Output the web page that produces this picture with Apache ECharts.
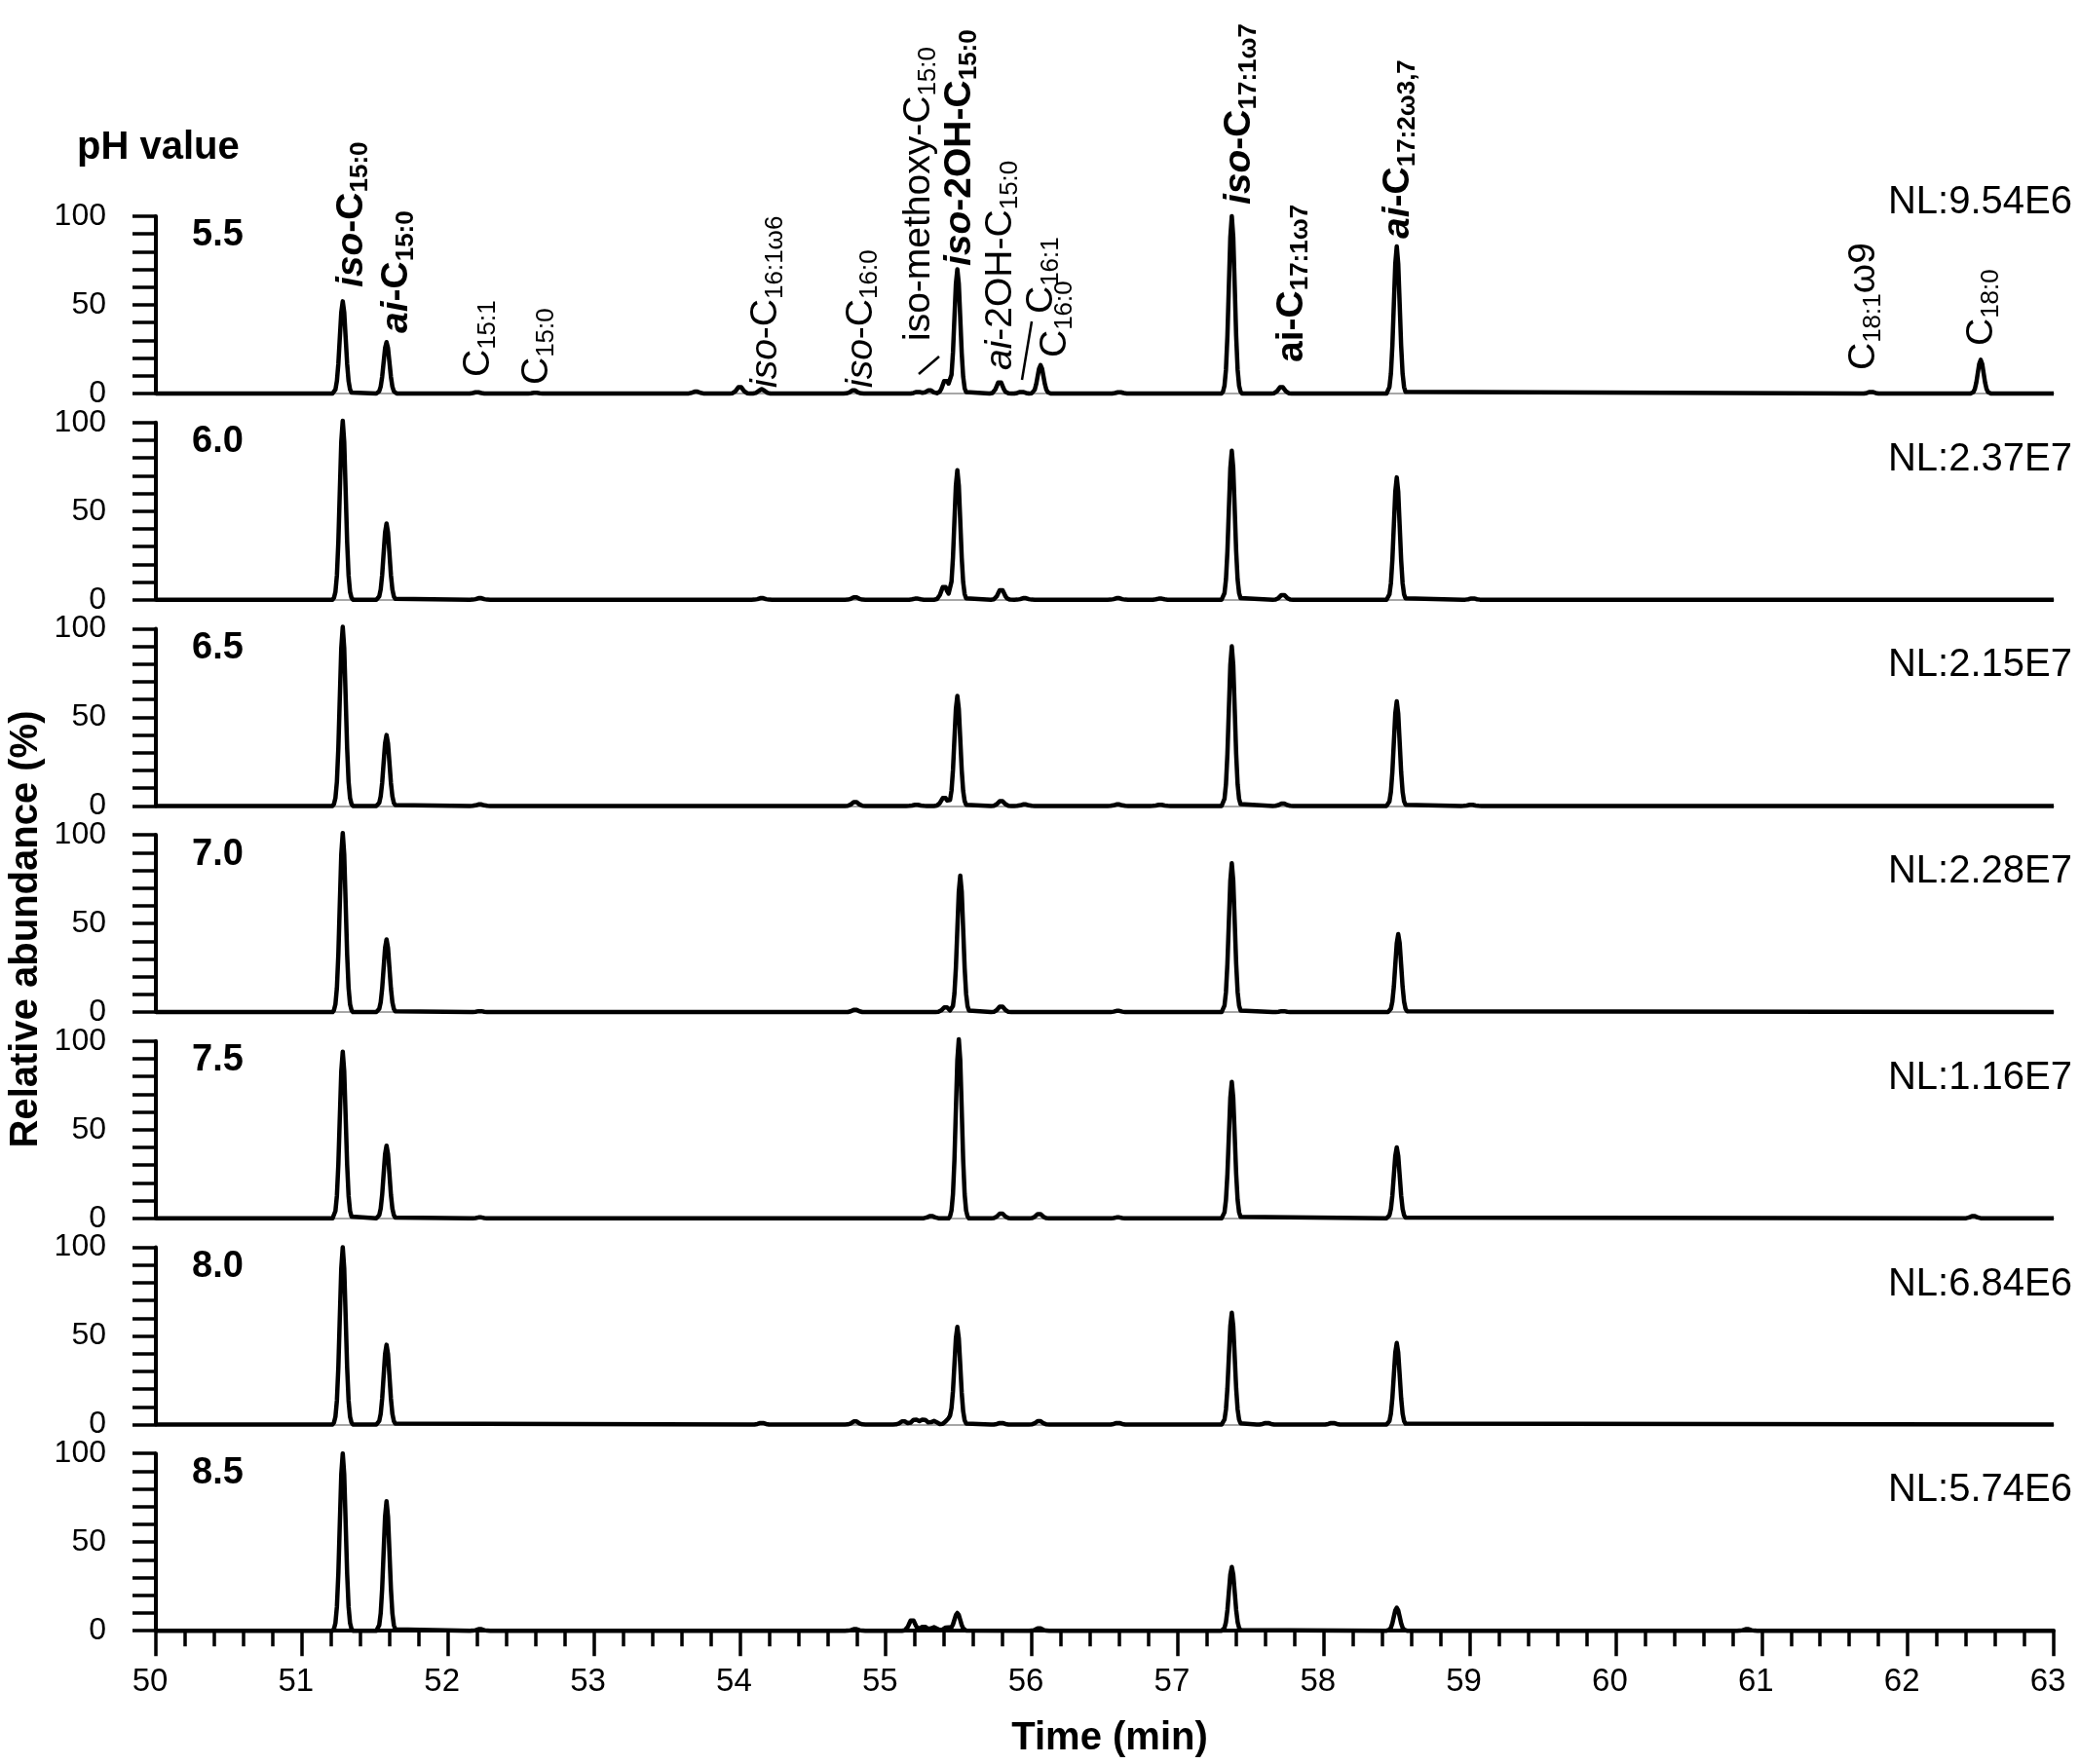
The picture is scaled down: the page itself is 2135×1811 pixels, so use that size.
<!DOCTYPE html>
<html>
<head>
<meta charset="utf-8">
<script src="https://cdn.jsdelivr.net/npm/echarts@6.0.0/dist/echarts.min.js"></script>
<style>
  html, body { margin: 0; padding: 0; background: #fff; }
  #chart { width: 2135px; height: 1811px; }
</style>
</head>
<body>
<div id="chart"></div>
<script>
// pH of each run, top to bottom
var phValues = ['5.5', '6.0', '6.5', '7.0', '7.5', '8.0', '8.5'];
// normalisation level of each trace
var nlValues = ['NL:9.54E6', 'NL:2.37E7', 'NL:2.15E7', 'NL:2.28E7', 'NL:1.16E7', 'NL:6.84E6', 'NL:5.74E6'];

// peaks: [retention time (min), relative abundance (%)]
var peaks55 = [[51.28, 52], [51.58, 29], [52.2, 0.8], [52.6, 0.5], [53.7, 1.2], [54.0, 4], [54.15, 2.5], [54.78, 2],
  [55.22, 1], [55.3, 2], [55.41, 8], [55.49, 70], [55.78, 7], [55.93, 1], [56.06, 16], [56.6, 0.8],
  [57.37, 100], [57.71, 4], [58.5, 83], [61.75, 1], [62.5, 19]];
var peaks60 = [[51.28, 101], [51.58, 43], [52.22, 1], [54.15, 1], [54.79, 1.5], [55.21, 0.7], [55.4, 8], [55.49, 73],
  [55.79, 6], [55.95, 1], [56.59, 1], [56.88, 0.7], [57.37, 84], [57.72, 3], [58.5, 69], [59.02, 0.8]];
var peaks65 = [[51.28, 101], [51.58, 40], [52.22, 1], [54.79, 2.5], [55.21, 0.7], [55.4, 5], [55.49, 62], [55.79, 3],
  [55.95, 1], [56.59, 1], [56.88, 0.7], [57.37, 90], [57.72, 1.5], [58.5, 59], [59.01, 0.7]];
var peaks70 = [[51.28, 101], [51.58, 41], [52.22, 0.6], [54.79, 1.5], [55.41, 3], [55.51, 77], [55.79, 3.5],
  [56.59, 0.8], [57.37, 84], [57.72, 0.6], [58.51, 44]];
var peaks75 = [[51.28, 94], [51.58, 41], [52.22, 0.6], [55.31, 1.5], [55.5, 101], [55.79, 3], [56.05, 2.7],
  [56.59, 0.6], [57.37, 77], [58.5, 40], [62.45, 1.5]];
var peaks80 = [[51.28, 100], [51.58, 45], [54.15, 1], [54.79, 2], [55.12, 2], [55.2, 3], [55.26, 3], [55.33, 2],
  [55.43, 3], [55.49, 55], [55.79, 1], [56.05, 2.2], [56.59, 1], [57.37, 63], [57.61, 1], [58.06, 1], [58.5, 46]];
var peaks85 = [[51.28, 100], [51.58, 73], [52.22, 1], [54.79, 1], [55.18, 6.5], [55.26, 2.5], [55.33, 2], [55.42, 2],
  [55.49, 10], [56.05, 1.5], [57.37, 36], [58.5, 13], [60.9, 1]];
var allPeaks = [peaks55, peaks60, peaks65, peaks70, peaks75, peaks80, peaks85];

// shape of one peak: [offset from apex (min), fraction of apex height]
var peakShape = [[-0.07, 0], [-0.06, 0.011], [-0.05, 0.044], [-0.04, 0.135], [-0.03, 0.325], [-0.02, 0.607],
  [-0.01, 0.883], [0, 1], [0.01, 0.883], [0.02, 0.607], [0.03, 0.325], [0.04, 0.135], [0.05, 0.044],
  [0.06, 0.011], [0.07, 0]];

// compound labels above the top trace, and the retention time each one sits at
var labelTexts = [
  '{bi|iso}{b|-C}{sb|15:0}',
  '{bi|ai}{b|-C}{sb|15:0}',
  '{n|C}{s|15:1}',
  '{n|C}{s|15:0}',
  '{i|iso}{n|-C}{s|16:1ω6}',
  '{i|iso}{n|-C}{s|16:0}',
  '{n|iso-methoxy-C}{s|15:0}',
  '{bi|iso}{b|-2OH-C}{sb|15:0}',
  '{i|ai}{n|-2OH-C}{s|15:0}',
  '{n|C}{s|16:1}',
  '{n|C}{s|16:0}',
  '{bi|iso}{b|-C}{sb|17:1ω7}',
  '{b|ai-C}{sb|17:1ω7}',
  '{bi|ai}{b|-C}{sb|17:2ω3,7}',
  '{n|C}{s|18:1}{n|ω9}',
  '{n|C}{s|18:0}'
];
var labelTimes = [51.34, 51.65, 52.21, 52.61, 54.18, 54.83, 55.23, 55.51, 55.79, 56.07, 56.16, 57.42, 57.78, 58.51, 61.7, 62.51];
// layout: pixel y where each rotated label starts
var labelBottoms = [295, 342, 387, 395, 398, 398, 350, 273, 380, 322, 367, 210, 372, 245, 380, 355];

function shapeAt(dt) {
  for (var k = 0; k < peakShape.length - 1; k++) {
    var a = peakShape[k], b = peakShape[k + 1];
    if (dt >= a[0] && dt <= b[0]) {
      return a[1] + (b[1] - a[1]) * (dt - a[0]) / (b[0] - a[0]);
    }
  }
  return 0;
}

function buildTrace(peaks) {
  var ts = [50, 63];
  for (var p of peaks) {
    for (var s of peakShape) {
      ts.push(Math.round((p[0] + s[0]) * 1000) / 1000);
    }
  }
  ts.sort(function (a, b) { return a - b; });
  var out = [];
  var last = null;
  for (var t of ts) {
    if (t === last) continue;
    last = t;
    var v = 0;
    for (var q of peaks) v += q[1] * shapeAt(t - q[0]);
    out.push([t, v]);
  }
  return out;
}

var FONT = "'Liberation Sans', Arial, Helvetica, sans-serif";
var GRID_LEFT = 160, GRID_RIGHT = 27, GRID_TOP = 222, GRID_H = 182, GRID_STEP = 211.7;

window.onload = function () {
  var chart = echarts.init(document.getElementById('chart'));
  var grids = [], xAxes = [], yAxes = [], series = [];
  var last = phValues.length - 1;

  for (var i = 0; i < phValues.length; i++) {
    var bottom = i === last;
    grids.push({ left: GRID_LEFT, right: GRID_RIGHT, top: GRID_TOP + i * GRID_STEP, height: GRID_H });
    xAxes.push({
      type: 'value', gridIndex: i, min: 50, max: 63, interval: 1,
      axisLine: { show: true, onZero: false, lineStyle: { color: bottom ? '#000' : '#8a8a8a', width: bottom ? 4 : 1.5 } },
      axisTick: { show: bottom, length: 26, lineStyle: { color: '#000', width: 3.5 } },
      minorTick: { show: bottom, splitNumber: 5, length: 16, lineStyle: { color: '#000', width: 3.5 } },
      axisLabel: { show: bottom, margin: 36, fontSize: 33, color: '#000', fontFamily: FONT, padding: [0, 12, 0, 0] },
      splitLine: { show: false }
    });
    yAxes.push({
      type: 'value', gridIndex: i, min: 0, max: 100, interval: 50,
      axisLine: { show: true, lineStyle: { color: '#000', width: 4 } },
      axisTick: { show: true, length: 24, lineStyle: { color: '#000', width: 3.5 } },
      minorTick: { show: true, splitNumber: 5, length: 24, lineStyle: { color: '#000', width: 3.5 } },
      axisLabel: { margin: 51, fontSize: 32, color: '#000', fontFamily: FONT },
      splitLine: { show: false }
    });
    series.push({
      type: 'line', xAxisIndex: i, yAxisIndex: i,
      data: buildTrace(allPeaks[i]),
      showSymbol: false, clip: false, silent: true,
      lineStyle: { color: '#000', width: 4.5, join: 'round' }
    });
  }

  chart.setOption({
    animation: false,
    backgroundColor: '#fff',
    grid: grids, xAxis: xAxes, yAxis: yAxes, series: series
  });

  var rich = {
    n: { fontSize: 39, fontFamily: FONT, lineHeight: 41 },
    i: { fontSize: 39, fontFamily: FONT, fontStyle: 'italic', lineHeight: 41 },
    b: { fontSize: 39, fontFamily: FONT, fontWeight: 'bold', lineHeight: 41 },
    bi: { fontSize: 39, fontFamily: FONT, fontWeight: 'bold', fontStyle: 'italic', lineHeight: 41 },
    s: { fontSize: 26, fontFamily: FONT, padding: [19, 0, 0, 0] },
    sb: { fontSize: 26, fontFamily: FONT, fontWeight: 'bold', padding: [19, 0, 0, 0] }
  };

  var graphic = [];
  // compound names
  for (var j = 0; j < labelTexts.length; j++) {
    var px = chart.convertToPixel({ xAxisIndex: 0 }, labelTimes[j]);
    graphic.push({
      type: 'text', x: px, y: labelBottoms[j], rotation: Math.PI / 2,
      style: { text: labelTexts[j], rich: rich, fill: '#000', align: 'left', verticalAlign: 'middle' }
    });
  }
  // leader strokes next to two labels
  graphic.push({ type: 'line', shape: { x1: 943, y1: 384, x2: 964, y2: 366 }, style: { stroke: '#000', lineWidth: 2.5 } });
  graphic.push({ type: 'line', shape: { x1: 1049, y1: 390, x2: 1059, y2: 330 }, style: { stroke: '#000', lineWidth: 2.5 } });

  // pH and NL labels per trace
  for (var k = 0; k < phValues.length; k++) {
    var top = GRID_TOP + k * GRID_STEP;
    graphic.push({
      type: 'text', x: 197, y: top + 20,
      style: { text: phValues[k], fontSize: 38, fontWeight: 'bold', fontFamily: FONT, fill: '#000', align: 'left', verticalAlign: 'middle' }
    });
    graphic.push({
      type: 'text', x: 2127, y: k === 0 ? 208 : top + 38,
      style: { text: nlValues[k], fontSize: 40, fontFamily: FONT, fill: '#000', align: 'right', verticalAlign: 'middle' }
    });
  }

  graphic.push({
    type: 'text', x: 79, y: 152,
    style: { text: 'pH value', fontSize: 40, fontWeight: 'bold', fontFamily: FONT, fill: '#000', align: 'left', verticalAlign: 'middle' }
  });
  graphic.push({
    type: 'text', x: 27, y: 954, rotation: Math.PI / 2,
    style: { text: 'Relative abundance (%)', fontSize: 40, fontWeight: 'bold', fontFamily: FONT, fill: '#000', align: 'center', verticalAlign: 'middle' }
  });
  graphic.push({
    type: 'text', x: 1139, y: 1785,
    style: { text: 'Time (min)', fontSize: 40, fontWeight: 'bold', fontFamily: FONT, fill: '#000', align: 'center', verticalAlign: 'middle' }
  });

  chart.setOption({ graphic: graphic });
};
</script>
</body>
</html>
